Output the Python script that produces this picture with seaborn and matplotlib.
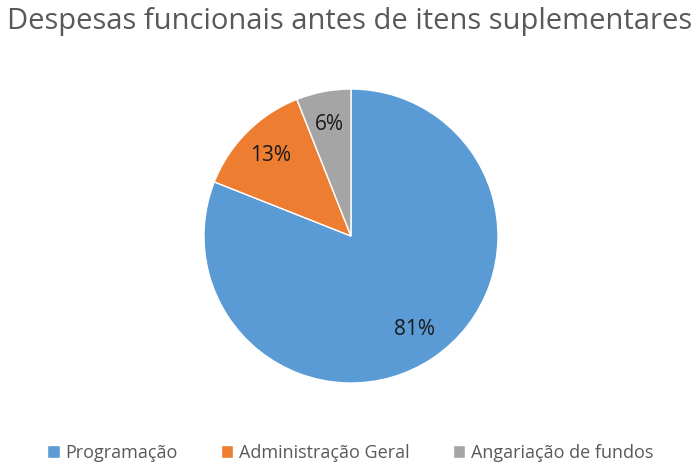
import matplotlib
matplotlib.use('Agg')
import matplotlib.pyplot as plt
import seaborn as sns

# dados do gráfico
categorias = ['Programação', 'Administração Geral', 'Angariação de fundos']
valores = [81, 13, 6]
cores = ['#5B9BD5', '#ED7D31', '#A5A5A5']

sns.set_theme(style='white')
plt.rcParams['font.family'] = ['Open Sans', 'DejaVu Sans']

fig = plt.figure(figsize=(7, 4.71), dpi=100)
ax = fig.add_axes([0.2914, 0.1868, 0.42, 0.6242])

fatias, textos, pcts = ax.pie(valores, colors=sns.color_palette(cores), startangle=90, counterclock=False,
                              autopct='%1.0f%%', pctdistance=0.77,
                              wedgeprops=dict(edgecolor='white', linewidth=1),
                              textprops=dict(fontsize=15, color='#1a1a1a'))
ax.set_aspect('equal')
ax.set_xlim(-1, 1)
ax.set_ylim(-1, 1)

fig.text(0.5, 0.955, 'Despesas funcionais antes de itens suplementares', ha='center', va='center',
         fontsize=21, color='#595959')

leg = fig.legend(fatias, categorias, loc='center', bbox_to_anchor=(0.5, 0.038), ncol=3, frameon=False,
                 fontsize=13, handlelength=0.7, handleheight=0.7, handletextpad=0.3, columnspacing=2.4)
for t in leg.get_texts():
    t.set_color('#595959')

fig.savefig('out.png', dpi=100)
